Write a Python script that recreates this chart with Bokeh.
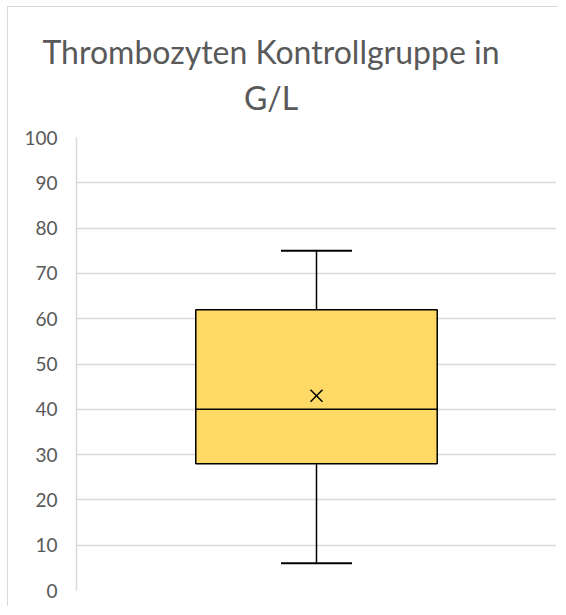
from bokeh.plotting import figure
from bokeh.models import ColumnDataSource, Whisker, TeeHead, Title, FixedTicker, FactorRange, Range1d
from bokeh.embed import file_html
from bokeh.resources import INLINE

# Data
categories = ["Kontrollgruppe"]
lower_whisker = [6]
q1 = [28]
median = [40]
q3 = [62]
upper_whisker = [75]
mean = [43]
y_ticks = [0, 10, 20, 30, 40, 50, 60, 70, 80, 90, 100]

title_lines = ["Thrombozyten Kontrollgruppe in", "G/L"]

src = ColumnDataSource(dict(cat=categories, lo=lower_whisker, q1=q1, med=median,
                            q3=q3, hi=upper_whisker, mean=mean))

FONT = "Lato"
GRAY = "#595959"
GRID = "#d9d9d9"
BOX = "#FFD966"

W, H = 551, 600
p = figure(width=W, height=H, x_range=FactorRange(factors=categories),
           y_range=Range1d(0, 100), output_backend="svg", toolbar_location=None,
           min_border_left=68, min_border_right=3, min_border_top=130, min_border_bottom=17)
p.styles = {"border-left": "1px solid #d9d9d9", "border-top": "1px solid #d9d9d9",
            "margin-left": "7px", "margin-top": "6px"}

p.title = Title(text="\n".join(title_lines), align="left", offset=-34, standoff=40,
                text_font=FONT, text_font_size="32px", text_color=GRAY,
                text_font_style="normal", text_line_height=1.2)
p.title.text_align = "center"

p.outline_line_color = None
p.background_fill_color = "white"
p.border_fill_color = "white"

p.xaxis.visible = False
p.xgrid.visible = False
p.ygrid.grid_line_color = GRID
p.ygrid.grid_line_width = 1.5

p.yaxis.ticker = FixedTicker(ticks=y_ticks)
p.yaxis.axis_line_color = GRID
p.yaxis.axis_line_width = 1.5
p.yaxis.major_tick_line_color = None
p.yaxis.minor_tick_line_color = None
p.yaxis.major_tick_out = 0
p.yaxis.major_label_standoff = 19
p.yaxis.major_label_text_font = FONT
p.yaxis.major_label_text_font_size = "19px"
p.yaxis.major_label_text_color = GRAY

wh = Whisker(source=src, base="cat", lower="lo", upper="hi", line_color="black", line_width=1.5,
             upper_head=TeeHead(size=71, line_color="black", line_width=2),
             lower_head=TeeHead(size=71, line_color="black", line_width=2), level="underlay")
p.add_layout(wh)

p.vbar(x="cat", bottom="q1", top="med", width=0.503, source=src, fill_color=BOX,
       line_color="black", line_width=1.5)
p.vbar(x="cat", bottom="med", top="q3", width=0.503, source=src, fill_color=BOX,
       line_color="black", line_width=1.5)
p.scatter(x="cat", y="mean", source=src, marker="x", size=17, line_color="black", line_width=1.5)

open("out.html", "w").write(file_html(p, INLINE))
